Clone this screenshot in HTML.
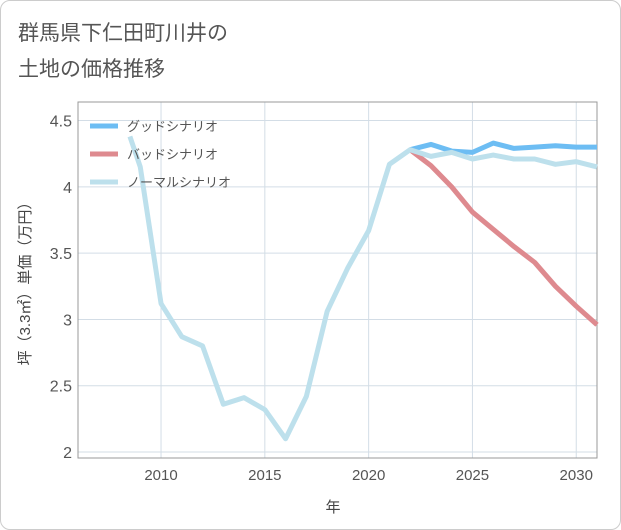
<!DOCTYPE html>
<html><head><meta charset="utf-8">
<style>
body{margin:0;background:#fff;font-family:"Liberation Sans","Noto Sans CJK JP",sans-serif;}
#card{position:absolute;left:0;top:0;width:619px;height:528px;border:1px solid #ccc;border-radius:10px;background:#fff;}
</style></head><body>
<div id="card">
<svg width="621" height="530" style="position:absolute;left:-1px;top:-1px">
<text x="18" y="40" font-size="21" fill="#555">群馬県下仁田町川井の</text>
<text x="18" y="76" font-size="21" fill="#555">土地の価格推移</text>
<g id="grid"></g>
<rect x="78" y="102" width="519" height="356" fill="none" stroke="#999" stroke-width="1"/>
<g id="series"></g>
<g id="legend"></g>
<text x="333" y="512" font-size="15" fill="#444" text-anchor="middle">年</text>
<text transform="translate(30,280) rotate(-90)" font-size="15" fill="#444" text-anchor="middle">坪（3.3㎡）単価（万円）</text>
</svg>
</div>
<script>
const xTicks=[2010,2015,2020,2025,2030];
const yTicks=[2,2.5,3,3.5,4,4.5];
const yTickLabels=["2","2.5","3","3.5","4","4.5"];
const normalYears=[2008.5,2009,2010,2011,2012,2013,2014,2015,2016,2017,2018,2019,2020,2021,2022,2023,2024,2025,2026,2027,2028,2029,2030,2031];
const normalVals=[4.38,4.15,3.12,2.87,2.80,2.36,2.41,2.32,2.10,2.42,3.06,3.39,3.67,4.17,4.28,4.23,4.26,4.21,4.24,4.21,4.21,4.17,4.19,4.15];
const futureYears=[2022,2023,2024,2025,2026,2027,2028,2029,2030,2031];
const goodVals=[4.28,4.32,4.27,4.26,4.33,4.29,4.30,4.31,4.30,4.30];
const badVals=[4.28,4.16,4.00,3.81,3.68,3.55,3.43,3.25,3.10,2.96];
const NS="http://www.w3.org/2000/svg";
const X0=78,X1=597,Y0=102,Y1=458;
const xMin=2006,xMax=2031,yMin=1.955,yMax=4.64;
const xs=v=>X0+(v-xMin)/(xMax-xMin)*(X1-X0);
const ys=v=>Y1-(v-yMin)/(yMax-yMin)*(Y1-Y0);
function mk(t,a){const e=document.createElementNS(NS,t);for(const k in a)e.setAttribute(k,a[k]);return e;}
const grid=document.getElementById('grid');
xTicks.forEach(t=>{
 const l=mk('line',{x1:xs(t),x2:xs(t),y1:Y0,y2:Y1,stroke:'#d3dde6','stroke-width':1});
 
 
 grid.appendChild(l);
 const tx=mk('text',{x:xs(t),y:480,'font-size':15,fill:'#555','text-anchor':'middle'});
 tx.textContent=t;
 
 
 grid.appendChild(tx);
});
yTicks.forEach((t,i)=>{
 const l=mk('line',{x1:X0,x2:X1,y1:ys(t),y2:ys(t),stroke:'#d3dde6','stroke-width':1});
 
 
 grid.appendChild(l);
 const tx=mk('text',{x:72,y:ys(t)+6,'font-size':16,fill:'#555','text-anchor':'end'});
 tx.textContent=yTickLabels[i];
 
 
 grid.appendChild(tx);
});
const ser=document.getElementById('series');
function line(xa,va,color,name){
 const p=mk('polyline',{points:xa.map((x,i)=>xs(x)+','+ys(va[i])).join(' '),fill:'none',stroke:color,'stroke-width':5,'stroke-linejoin':'round'});
 
 
 ser.appendChild(p);
}
line(futureYears,badVals,'#de8a8f','bad-scenario-line');
line(futureYears,goodVals,'#6dbdf3','good-scenario-line');
line(normalYears,normalVals,'#bde0ec','normal-scenario-line');
const leg=document.getElementById('legend');
[['グッドシナリオ','#6dbdf3','legend-good'],['バッドシナリオ','#de8a8f','legend-bad'],['ノーマルシナリオ','#bde0ec','legend-normal']].forEach((d,i)=>{
 const y=126+i*28;
 const g=mk('g',{});
 
 
 g.appendChild(mk('line',{x1:90,x2:118,y1:y,y2:y,stroke:d[1],'stroke-width':5}));
 const t=mk('text',{x:127,y:y+5,'font-size':13,fill:'#555'});
 t.textContent=d[0];
 g.appendChild(t);
 leg.appendChild(g);
});
</script>
</body></html>
